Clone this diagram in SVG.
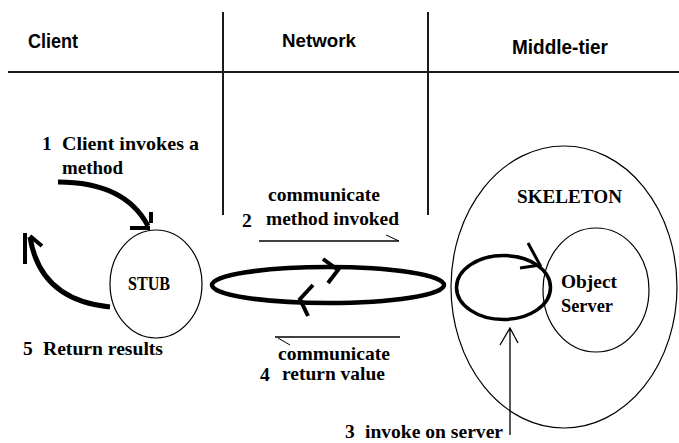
<svg xmlns="http://www.w3.org/2000/svg" width="679" height="443" viewBox="0 0 679 443">
  <style>
    .hdr { font-family: "Liberation Sans", Arial, sans-serif; font-weight: bold; fill: #000; }
    .lbl { font-family: "Liberation Serif", "Times New Roman", serif; font-weight: bold; font-size: 19.5px; fill: #000; }
    .rule { stroke: #1a1a1a; stroke-width: 2; fill: none; }
    .thin { stroke: #000; stroke-width: 1.2; fill: none; }
    .thick { stroke: #000; stroke-width: 5; fill: none; stroke-linecap: butt; }
    .flow { stroke: #000; stroke-width: 4; fill: none; }
    .note { stroke: #000; stroke-width: 1.5; fill: none; }
  </style>

  <rect width="679" height="443" fill="#fff"/>

  <!-- column headers and dividers -->
  <g id="header">
    <line class="rule" x1="8" y1="72" x2="679" y2="72"/>
    <line class="rule" x1="223" y1="12" x2="223" y2="215"/>
    <line class="rule" x1="428" y1="12" x2="428" y2="215"/>
    <text class="hdr" x="28" y="48" font-size="21" textLength="50" lengthAdjust="spacingAndGlyphs">Client</text>
    <text class="hdr" x="282" y="47" font-size="18.5" textLength="74" lengthAdjust="spacingAndGlyphs">Network</text>
    <text class="hdr" x="512" y="54" font-size="20" textLength="96" lengthAdjust="spacingAndGlyphs">Middle-tier</text>
  </g>

  <g id="stub">
    <ellipse class="thin" cx="156" cy="284" rx="46" ry="54"/>
    <text class="lbl" x="128" y="290" font-size="20.5" textLength="42" lengthAdjust="spacingAndGlyphs">STUB</text>
  </g>

  <g id="channel">
    <ellipse cx="328" cy="285" rx="116" ry="18" fill="none" stroke="#000" stroke-width="4.5"/>
  </g>

  <g id="skeleton">
    <ellipse class="thin" cx="564" cy="287" rx="113" ry="141"/>
    <text class="lbl" x="517" y="203" textLength="105" lengthAdjust="spacingAndGlyphs">SKELETON</text>
  </g>

  <g id="object-server">
    <ellipse class="thin" cx="596" cy="290" rx="53" ry="62"/>
    <text class="lbl" x="561" y="288" textLength="56" lengthAdjust="spacingAndGlyphs">Object</text>
    <text class="lbl" x="561" y="312" textLength="52" lengthAdjust="spacingAndGlyphs">Server</text>
  </g>

  <g id="invoke-loop">
    <ellipse cx="503.5" cy="287.5" rx="47" ry="32" fill="none" stroke="#000" stroke-width="3.5"/>
  </g>

  <!-- step labels -->
  <g id="labels">
    <text class="lbl" x="42" y="150">1</text>
    <text class="lbl" x="62" y="150" textLength="137" lengthAdjust="spacingAndGlyphs">Client invokes a</text>
    <text class="lbl" x="62" y="174" textLength="61" lengthAdjust="spacingAndGlyphs">method</text>

    <text class="lbl" x="268" y="201" textLength="112" lengthAdjust="spacingAndGlyphs">communicate</text>
    <text class="lbl" x="242" y="227">2</text>
    <text class="lbl" x="266" y="225" textLength="133" lengthAdjust="spacingAndGlyphs">method invoked</text>

    <text class="lbl" x="278" y="360" font-size="17" textLength="112" lengthAdjust="spacingAndGlyphs">communicate</text>
    <text class="lbl" x="260" y="381" font-size="18">4</text>
    <text class="lbl" x="282" y="380" font-size="17" textLength="103" lengthAdjust="spacingAndGlyphs">return value</text>

    <text class="lbl" x="23" y="355">5</text>
    <text class="lbl" x="43" y="355" textLength="120" lengthAdjust="spacingAndGlyphs">Return results</text>

    <text class="lbl" x="345" y="438">3</text>
    <text class="lbl" x="365" y="438" textLength="138" lengthAdjust="spacingAndGlyphs">invoke on server</text>
  </g>

  <g id="connectors">
    <!-- 1: client to stub -->
    <path class="thick" d="M58,182 Q125,182 148,226"/>
    <path class="flow" d="M130,228 L150,228 M151,212 L151,223"/>

    <!-- 5: stub back to client -->
    <path class="thick" d="M110,307 Q40,300 30,237"/>
    <path class="flow" d="M25,233 L25,264 M30,236 L42,246"/>

    <!-- 2: request across the network -->
    <path class="note" d="M259,241 L399,241"/>
    <path stroke="#000" stroke-width="1" fill="none" d="M386,235 L399,241"/>

    <!-- 4: reply across the network -->
    <path class="note" d="M275,337 L400,337"/>
    <path stroke="#000" stroke-width="1" fill="none" d="M278,338 L290,345"/>

    <!-- direction marks on the channel -->
    <path class="flow" d="M323,259 L338,270 L328,283"/>
    <path class="flow" d="M313,285 L300,299 L308,316"/>

    <!-- direction mark on the invoke loop -->
    <path stroke="#000" stroke-width="3" fill="none" d="M528,243 L540,265 L520,268"/>

    <!-- 3: invoke on server -->
    <path stroke="#000" stroke-width="1.3" fill="none" d="M510,435 L510,328 M500,345 L510,328 L518,343"/>
  </g>
</svg>
